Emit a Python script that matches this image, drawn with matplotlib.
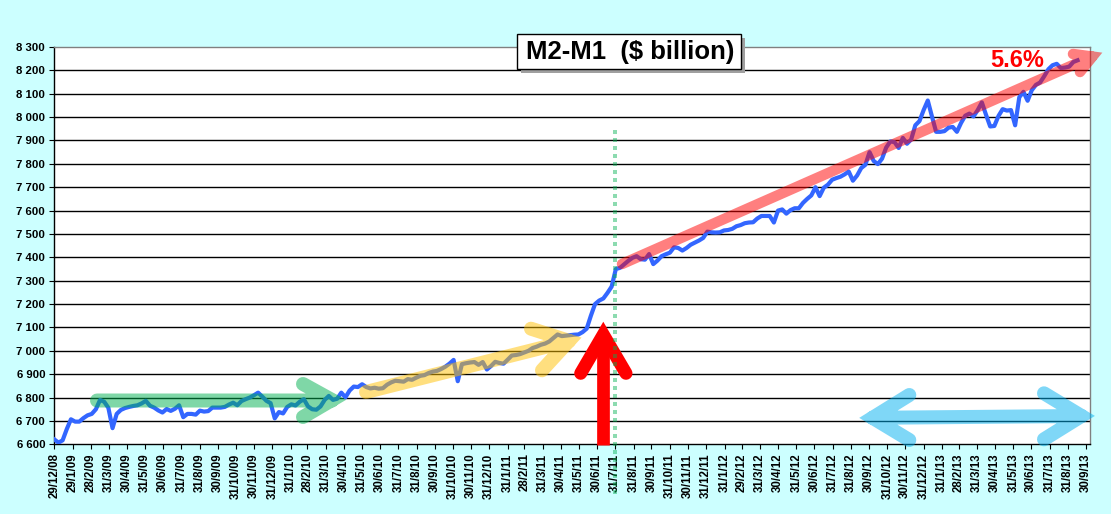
import matplotlib
matplotlib.use("Agg")
import matplotlib.pyplot as plt
from matplotlib.lines import Line2D
from matplotlib.patches import Rectangle
from datetime import datetime
import numpy as np
import pandas as pd

plt.rcParams['font.family'] = ['Liberation Sans', 'DejaVu Sans']

# weekly M2-M1 ($ billion), first week 29/12/08
m2_m1 = [
    6621, 6607, 6617, 6665, 6707, 6697, 6697, 6712, 6724, 6730,
    6750, 6790, 6782, 6756, 6669, 6730, 6747, 6755, 6760, 6764,
    6767, 6775, 6786, 6765, 6757, 6745, 6736, 6751, 6743, 6752,
    6767, 6716, 6730, 6730, 6727, 6744, 6740, 6742, 6757, 6757,
    6757, 6760, 6770, 6778, 6767, 6785, 6793, 6800, 6810, 6821,
    6804, 6786, 6776, 6711, 6738, 6732, 6760, 6771, 6766, 6782,
    6793, 6762, 6750, 6748, 6762, 6790, 6807, 6790, 6795, 6821,
    6801, 6830, 6847, 6845, 6857, 6845,
    6839, 6842, 6838, 6840, 6855, 6865, 6872, 6870, 6868, 6879,
    6876, 6885, 6893, 6896, 6905, 6911, 6914, 6922, 6932, 6945,
    6961, 6870, 6943, 6947, 6950, 6952, 6940, 6952, 6920, 6935,
    6953, 6948, 6945, 6962, 6980, 6982, 6986, 6993, 7000, 7012,
    7018, 7026, 7031, 7040, 7055, 7070,
    7063, 7065, 7067, 7069, 7070, 7080, 7095, 7150, 7200, 7215,
    7224, 7248, 7275, 7350, 7355, 7370, 7385, 7398, 7405, 7392,
    7390, 7414, 7371, 7386, 7405, 7413, 7420, 7443, 7440, 7429,
    7440, 7454, 7463, 7472, 7483, 7510, 7507, 7506, 7507, 7515,
    7517, 7522, 7533, 7538, 7546, 7549, 7550, 7566, 7577, 7577,
    7577, 7549, 7600, 7605, 7587, 7602, 7610, 7610, 7633, 7650,
    7665, 7700,
    7662, 7698, 7711, 7732, 7739, 7745, 7755, 7767, 7728, 7750,
    7782, 7796, 7850, 7812, 7799, 7822, 7870, 7896, 7893, 7868,
    7911, 7886, 7904, 7965, 7983, 8030, 8071, 8003, 7937, 7937,
    7940, 7955, 7958, 7937, 7975, 8006, 8015, 8003, 8030, 8063,
    8010, 7960, 7962, 8005, 8034, 8028, 8030, 7965, 8085, 8108,
    8070, 8115, 8138, 8148, 8175, 8205, 8222, 8228, 8210, 8212,
    8216, 8236, 8243,
]
weeks = pd.date_range("2008-12-29", periods=len(m2_m1), freq="7D")

tick_labels = [
    '29/12/08', '29/1/09', '28/2/09', '31/3/09', '30/4/09', '31/5/09', '30/6/09',
    '31/7/09', '31/8/09', '30/9/09', '31/10/09', '30/11/09', '31/12/09',
    '31/1/10', '28/2/10', '31/3/10', '30/4/10', '31/5/10', '30/6/10', '31/7/10',
    '31/8/10', '30/9/10', '31/10/10', '30/11/10', '31/12/10',
    '31/1/11', '28/2/11', '31/3/11', '30/4/11', '31/5/11', '30/6/11', '31/7/11',
    '31/8/11', '30/9/11', '31/10/11', '30/11/11', '31/12/11',
    '31/1/12', '29/2/12', '31/3/12', '30/4/12', '31/5/12', '30/6/12', '31/7/12',
    '31/8/12', '30/9/12', '31/10/12', '30/11/12', '31/12/12',
    '31/1/13', '28/2/13', '31/3/13', '30/4/13', '31/5/13', '30/6/13', '31/7/13',
    '31/8/13', '30/9/13',
]
tick_dates = [datetime.strptime(s, "%d/%m/%y") for s in tick_labels]
y_ticks = list(range(6600, 8301, 100))

title = r"M2-M1  (\$ billion)"
trend_label = "5.6%"

# ---- figure, sized in pixels
W, H = 1111, 514
fig = plt.figure(figsize=(W / 100, H / 100), dpi=100, facecolor="#CCFFFF")
ax = fig.add_axes([54.3 / W, 1 - 444.3 / H, (1090 - 54.3) / W, (444.3 - 47) / H])
ax.set_facecolor("white")

for y in y_ticks[1:-1]:
    ax.axhline(y, color="black", lw=1.0, zorder=1)

ax.plot(weeks.to_numpy(), m2_m1, color="#3366FF", lw=3.0, zorder=3,
        solid_joinstyle="round")

ax.set_xlim(np.datetime64("2008-12-29"), np.datetime64("2013-10-07"))
ax.set_ylim(6600, 8300)
ax.set_xticks(tick_dates)
ax.set_xticklabels(tick_labels, rotation=90, fontsize=8.3, fontweight="bold")
ax.set_yticks(y_ticks)
ax.set_yticklabels([f"{v:,}".replace(",", " ") for v in y_ticks],
                   fontsize=8.2, fontweight="bold")
ax.tick_params(direction="out", length=3.6, width=0.8, pad=3)

for side in ("left", "bottom"):
    ax.spines[side].set_color("black")
    ax.spines[side].set_linewidth(1.0)
for side in ("top", "right"):
    ax.spines[side].set_color("#808080")
    ax.spines[side].set_linewidth(1.0)


# ---- hand drawn style arrows, in pixel positions of the figure
def stroke(points, color, alpha, width_px, cap="round", z=5, **kw):
    xs = [np.nan if p is None else p[0] / W for p in points]
    ys = [np.nan if p is None else 1 - p[1] / H for p in points]
    fig.add_artist(Line2D(xs, ys, transform=fig.transFigure, color=color,
                          alpha=alpha, lw=width_px * 0.72, solid_capstyle=cap,
                          solid_joinstyle="miter", zorder=z, **kw))


# flat green arrow
stroke([(97, 400.5), (332, 400.5), None,
        (303, 384), (332, 400), (303, 417)], "#00B050", 0.5, 14)
# yellow rising arrow
stroke([(366, 392), (569, 341), None,
        (531, 328.7), (569, 340.9), (542, 370.3)], "#FFC000", 0.5, 14)
# red trend arrow
stroke([(622, 264), (1092, 56.6), None,
        (1073, 54), (1092.4, 56.6), (1080, 72)], "#FF0000", 0.5, 10.5)
# light blue double arrow
stroke([(872.6, 417.8), (1081.5, 416), None,
        (909.3, 395), (872.6, 417.8), (909.3, 440), None,
        (1044, 393.3), (1081.5, 416), (1044, 439.3)], "#00B0F0", 0.5, 14)
# big red up arrow
stroke([(603.3, 444.5), (603.3, 345)], "#FF0000", 1.0, 12.7, cap="butt", z=6)
stroke([(580.7, 373.3), (603.3, 334.6), (626, 373.3)], "#FF0000", 1.0, 13, z=6)
# dotted green marker at 31/7/11
stroke([(615.3, 130), (615.3, 497)], "#00B050", 0.45, 4, cap="butt", z=7,
       linestyle=(0, (1, 1)))

# ---- title box with shadow
fig.add_artist(Rectangle(((516.7 + 4) / W, 1 - (68.7 + 4) / H), 224 / W, 34.4 / H,
                         transform=fig.transFigure, facecolor="#A0A0A0",
                         edgecolor="none", zorder=8))
fig.add_artist(Rectangle((516.7 / W, 1 - 68.7 / H), 224 / W, 34.4 / H,
                         transform=fig.transFigure, facecolor="white",
                         edgecolor="black", lw=1.0, zorder=9))
fig.text(630 / W, 1 - 52 / H, title, fontsize=18.5, fontweight="bold",
         ha="center", va="center", zorder=10)
fig.text(1017 / W, 1 - 60.5 / H, trend_label, fontsize=17, fontweight="bold",
         color="#FF0000", ha="center", va="center", zorder=10)

fig.savefig("out.png", dpi=100, facecolor=fig.get_facecolor())
